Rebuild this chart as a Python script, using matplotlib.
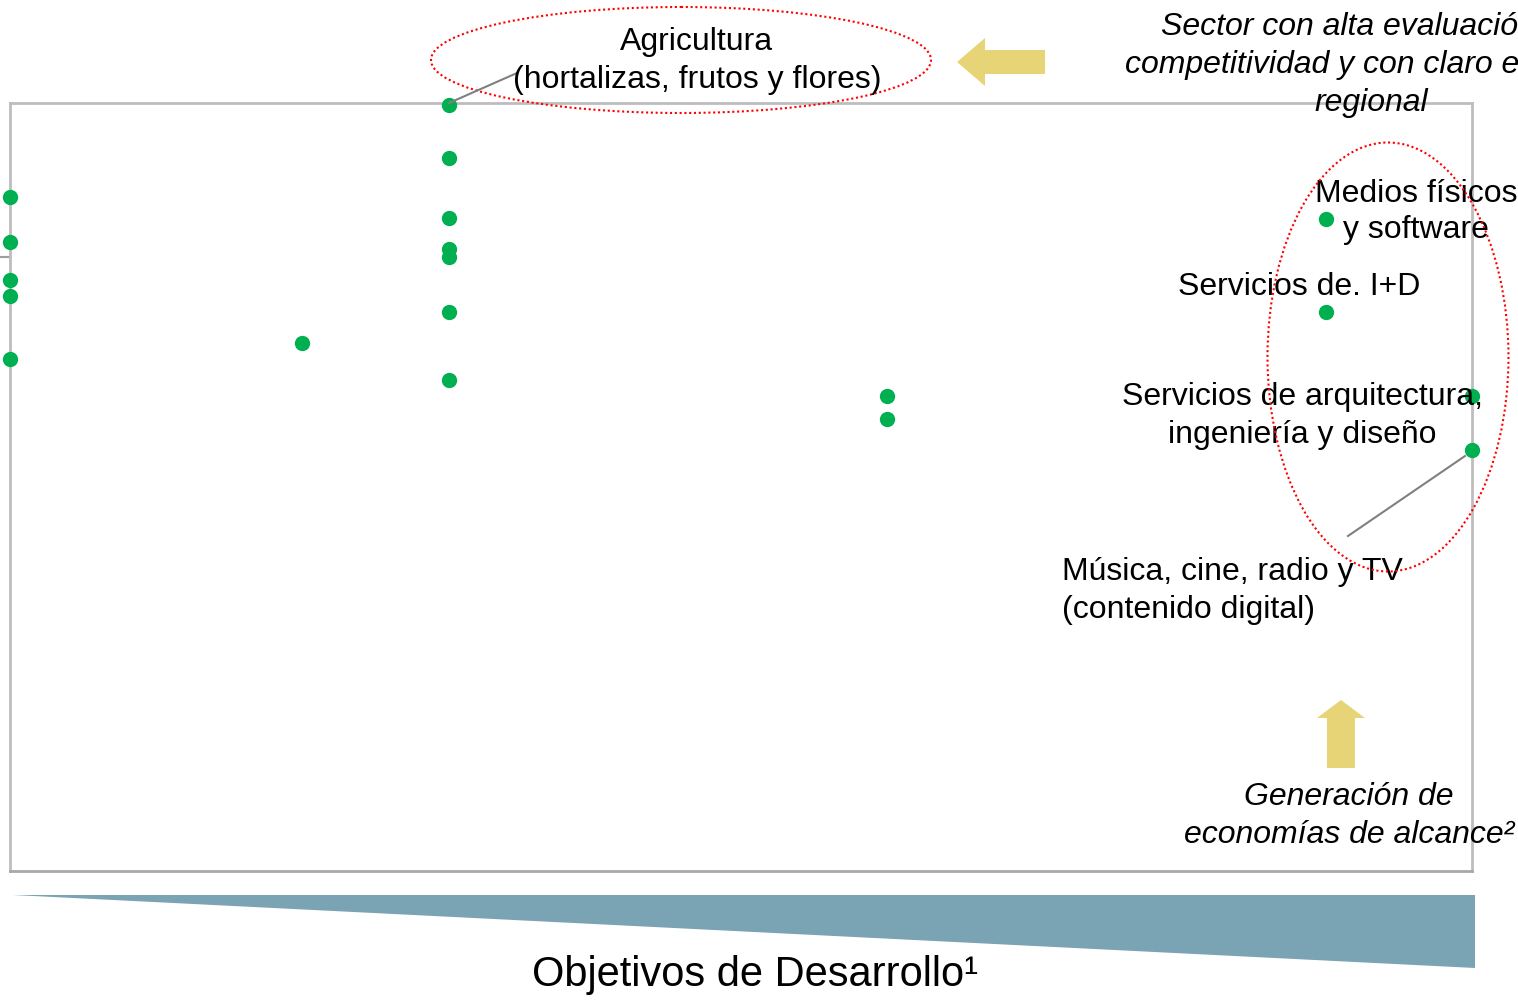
import matplotlib
matplotlib.use("Agg")
import matplotlib.pyplot as plt
from matplotlib.patches import Ellipse, Polygon

plt.rcParams['font.family'] = ['Liberation Sans', 'DejaVu Sans']

# sectores: posicion en el eje de objetivos (x) y evaluacion (y)
x_vals = [0, 0, 0, 0, 0, 2, 3, 3, 3, 3, 3, 3, 3, 6, 6, 9, 9, 10, 10]
y_vals = [8.78, 8.19, 7.70, 7.49, 6.67, 6.88,
          9.97, 9.28, 8.50, 8.10, 7.99, 7.28, 6.39,
          6.18, 5.89, 8.49, 7.28, 6.18, 5.48]
y_ticks = [8]

green = '#00b050'
yellow = '#e6d476'
teal = '#7aa3b4'
grey = '#bdbdbd'

W, H = 1518, 1002
fig = plt.figure(figsize=(W / 100, H / 100), dpi=100)

ax = fig.add_axes([10 / W, 1 - 871 / H, 1462 / W, 768 / H])
ax.plot(x_vals, y_vals, 'o', color=green, markersize=10, clip_on=False, zorder=5)
ax.set_xlim(0, 10)
ax.set_ylim(0, 10)
ax.set_xticks([])
ax.set_yticks(y_ticks)
ax.set_yticklabels([])
ax.tick_params(axis='y', length=7, width=1.5, color='#9e9e9e', direction='out')
for s in ax.spines.values():
    s.set_color(grey)
    s.set_linewidth(2)
ax.spines['bottom'].set_color('#a8a8a8')

# capa de anotaciones en pixeles
ov = fig.add_axes([0, 0, 1, 1], facecolor='none')
ov.set_xlim(0, W)
ov.set_ylim(H, 0)
ov.axis('off')

dots = (0, (1, 1.3))
ov.add_patch(Ellipse((681, 60), 500, 106, fill=False, ec='red', ls=dots, lw=1.5))
ov.add_patch(Ellipse((1388, 357), 241, 429, fill=False, ec='red', ls=dots, lw=1.5, zorder=6))

ov.plot([449, 517], [103, 73], color='#808080', lw=1.5)
ov.plot([1348, 1465], [536, 456], color='#808080', lw=1.5)

# flechas amarillas
ov.add_patch(Polygon([(957, 62), (985, 38), (985, 50), (1045, 50), (1045, 74),
                      (985, 74), (985, 86)], closed=True, fc=yellow, ec='none'))
ov.add_patch(Polygon([(1341, 700), (1365, 718), (1355, 718), (1355, 768),
                      (1327, 768), (1327, 718), (1317, 718)], closed=True, fc=yellow, ec='none'))

# triangulo de objetivos
ov.add_patch(Polygon([(13, 895), (1475, 895), (1475, 968)], closed=True, fc=teal, ec='none'))

fs = 23
ls = 1.34
ov.text(697, 61, "Agricultura\n(hortalizas, frutos y flores)", fontsize=fs,
        ha='center', va='center', linespacing=ls)
ov.text(1371, 65, "Sector con alta evaluación de\ncompetitividad y con claro enfoque\nregional",
        fontsize=fs, style='italic', ha='center', va='center', linespacing=ls)
ov.text(1416, 212, "Medios físicos\ny software", fontsize=fs, ha='center', va='center',
        linespacing=1.3)
ov.text(1299, 287, "Servicios de. I+D", fontsize=fs, ha='center', va='center')
ov.text(1302, 416, "Servicios de arquitectura,\ningeniería y diseño", fontsize=fs,
        ha='center', va='center', linespacing=ls)
ov.text(1062, 591, "Música, cine, radio y TV\n(contenido digital)", fontsize=fs,
        ha='left', va='center', linespacing=ls)
ov.text(1349, 816, "Generación de\neconomías de alcance²", fontsize=fs, style='italic',
        ha='center', va='center', linespacing=ls)
ov.text(755, 975, "Objetivos de Desarrollo¹", fontsize=30, ha='center', va='center')

fig.savefig("out.png", dpi=100)
